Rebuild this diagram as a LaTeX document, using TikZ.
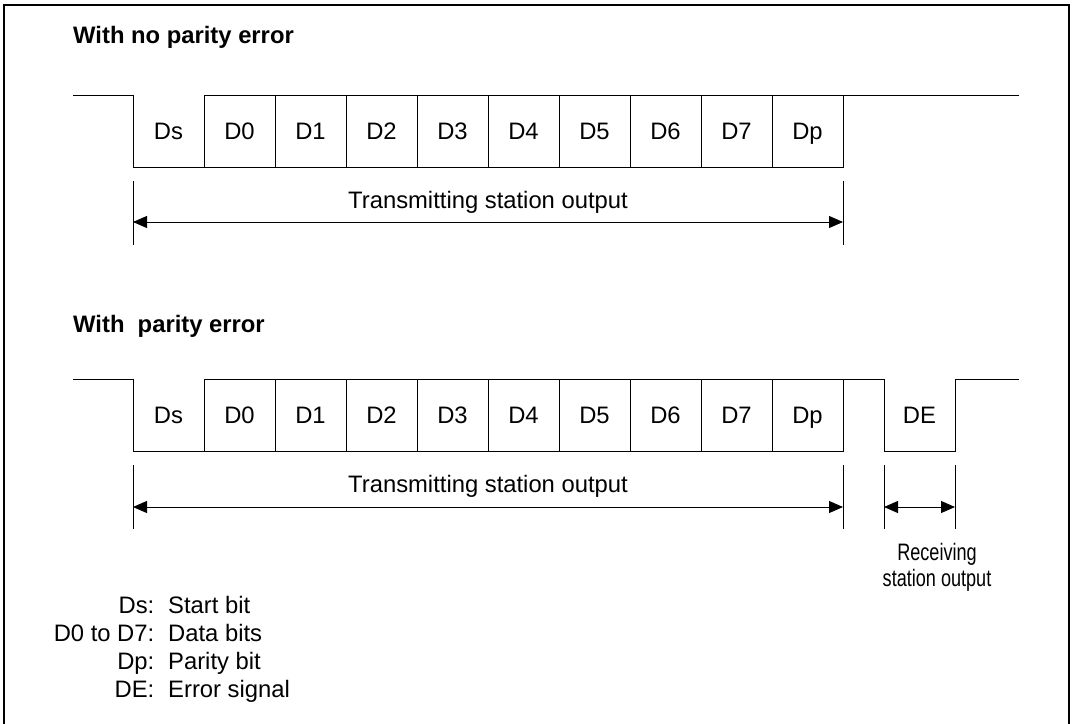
\documentclass[tikz,border=0pt]{standalone}
\usepackage{fontspec}
\setmainfont{Liberation Sans}
\usepackage{graphicx}
\usetikzlibrary{arrows.meta, positioning}

\begin{document}
\begin{tikzpicture}[
  x=1pt, y=-1pt,
  font=\fontsize{23.8}{28}\selectfont,
  bitcell/.style={
    rectangle, draw, line width=1pt,
    minimum width=71pt, minimum height=72pt,
    inner sep=0pt, outer sep=0pt,
    text height=17pt, text depth=0pt
  },
  opencell/.style={bitcell, draw=none},
  wave/.style={line width=1pt, line join=miter},
  tick/.style={line width=0.9pt},
  dimarr/.style={{Triangle[length=14pt,width=12pt]}-{Triangle[length=14pt,width=12pt]}, line width=1pt},
  title/.style={anchor=base west, inner sep=0pt, font=\fontsize{23.8}{28}\selectfont\bfseries},
  keyname/.style={anchor=base east, inner sep=0pt},
  keytext/.style={anchor=base west, inner sep=0pt},
]
\useasboundingbox (0,0) rectangle (1073,723);

% Frame
\draw[line width=2pt] (4,5) rectangle (1069,730);

% Titles
\node[title] (ttl-ok) at (73,43) {With no parity error};
\node[title] (ttl-err) at (73,332) {With\ \ parity error};

% Frame without parity error
\node[opencell] (t-Ds) at (168.5,131) {Ds};
\foreach \bit [remember=\bit as \prev (initially Ds)] in {D0,D1,D2,D3,D4,D5,D6,D7,Dp}
  \node[bitcell, right=0pt of t-\prev] (t-\bit) {\bit};
\coordinate (t-in) at (73,95);
\coordinate (t-out) at (1019,95);
\draw[wave] (t-in) -| (t-Ds.south west) -- (t-Ds.south east);
\draw[wave] (t-Dp.north east) -- (t-out);

% Transmitting station output
\draw[tick] ([yshift=-14pt]t-Ds.south west) -- ([yshift=-78pt]t-Ds.south west);
\draw[tick] ([yshift=-14pt]t-Dp.south east) -- ([yshift=-78pt]t-Dp.south east);
\coordinate (t-l) at ([yshift=-55pt]t-Ds.south west);
\coordinate (t-r) at ([yshift=-55pt]t-Dp.south east);
\draw[dimarr] (t-l) -- (t-r);
\node[anchor=base, inner sep=0pt] (t-lbl) at (488,208) {Transmitting station output};

% Frame with parity error
\node[opencell] (e-Ds) at (168.5,415) {Ds};
\foreach \bit [remember=\bit as \prev (initially Ds)] in {D0,D1,D2,D3,D4,D5,D6,D7,Dp}
  \node[bitcell, right=0pt of e-\prev] (e-\bit) {\bit};
\node[opencell, right=41pt of e-Dp] (e-DE) {DE};
\coordinate (e-in) at (73,379);
\coordinate (e-out) at (1019,379);
\draw[wave] (e-in) -| (e-Ds.south west) -- (e-Ds.south east);
\draw[wave] (e-Dp.north east) -- (e-DE.north west) -- (e-DE.south west)
  -- (e-DE.south east) -- (e-DE.north east) -- (e-out);

% Transmitting / receiving station output
\foreach \pt in {e-Ds.south west, e-Dp.south east, e-DE.south west, e-DE.south east}
  \draw[tick] ([yshift=-14pt]\pt) -- ([yshift=-78pt]\pt);
\coordinate (e-l) at ([yshift=-56pt]e-Ds.south west);
\coordinate (e-r) at ([yshift=-56pt]e-Dp.south east);
\coordinate (e-rl) at ([yshift=-56pt]e-DE.south west);
\coordinate (e-rr) at ([yshift=-56pt]e-DE.south east);
\draw[dimarr] (e-l) -- (e-r);
\draw[dimarr] (e-rl) -- (e-rr);
\node[anchor=base, inner sep=0pt] (e-lbl) at (488,492) {Transmitting station output};
\node[anchor=base, inner sep=0pt] (e-rlbl1) at (937,560) {\scalebox{0.76}[1]{Receiving}};
\node[anchor=base, inner sep=0pt] (e-rlbl2) at (937,586) {\scalebox{0.76}[1]{station output}};

% Key
\foreach \ky/\kname/\ktext [count=\i] in {613/Ds/Start bit, 641/D0 to D7/Data bits,
    669/Dp/Parity bit, 697/DE/Error signal} {
  \node[keyname] (k-\i) at (154.5,\ky) {\kname:};
  \node[keytext] (k-\i-t) at (168,\ky) {\ktext};
}

\end{tikzpicture}
\end{document}
